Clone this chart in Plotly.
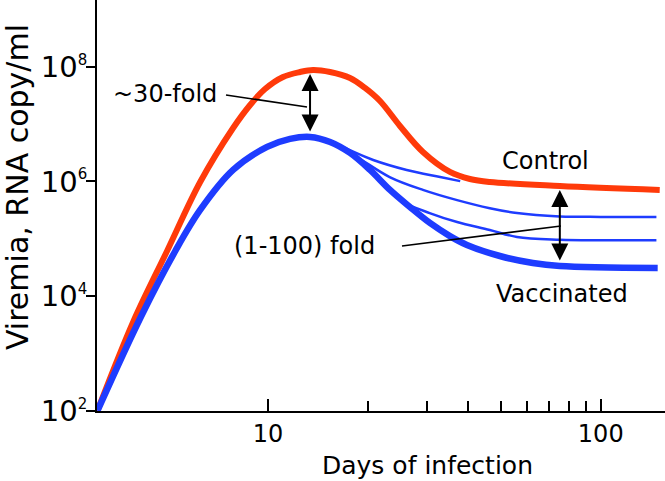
import numpy as np
import plotly.graph_objects as go

# ---------------- data ----------------
control_days = [3.07, 3.93, 4.97, 6.25, 7.85, 8.83, 9.79, 11.09, 12.48, 13.65, 15.36, 17.63, 19.56, 21.7,
                24.91, 29.21, 35.21, 40.43, 46.42, 75.33, 150.4]
control_vl = [1e2, 3.53e3, 6.1e4, 9.75e5, 8.53e6, 2.15e7, 4.08e7, 6.62e7, 8.09e7, 8.77e7, 8.09e7, 6.36e7, 4.26e7,
              2.52e7, 9.25e6, 3.25e6, 1.46e6, 1.10e6, 9.75e5, 8.3e5, 7.08e5]

vacc_days = [3.07, 4.13, 5.26, 6.25, 7.85, 9.93, 11.64, 13.37, 15.36, 17.63, 20.25, 23.25, 26.69, 30.65, 35.21,
             39.6, 49.75, 62.5, 75.33, 148.3]
vacc_vl = [1e2, 4.14e3, 6.1e4, 3.17e5, 1.58e6, 3.98e6, 5.49e6, 5.95e6, 4.86e6, 3.13e6, 1.58e6, 7.08e5, 3.57e5,
           1.88e5, 1.11e5, 7.77e4, 4.99e4, 3.77e4, 3.34e4, 3.08e4]

thin1_days = [13.37, 15.36, 20.7, 26.1, 32.9, 37.8]
thin1_vl = [5.95e6, 4.86e6, 2.36e6, 1.58e6, 1.19e6, 1.01e6]

thin2_days = [13.37, 15.36, 18.5, 23.2, 29.2, 37.0, 46.4, 56.0, 75.3, 100, 147]
thin2_vl = [5.95e6, 4.86e6, 2.66e6, 1.19e6, 7.1e5, 4.7e5, 3.4e5, 2.8e5, 2.45e5, 2.4e5, 2.4e5]

thin3_days = [20.25, 23.25, 25.4, 30.6, 37.0, 46.4, 56.0, 75.3, 100, 147]
thin3_vl = [1.58e6, 7.08e5, 4.4e5, 2.8e5, 1.95e5, 1.42e5, 1.07e5, 9.6e4, 9.4e4, 9.4e4]

x_tickvals = [10, 100]
x_ticktext = ["10", "100"]
x_minorvals = [20, 30, 40, 50, 60, 70, 80, 90]
y_tickvals = [1e2, 1e4, 1e6, 1e8]
y_exponents = ["2", "4", "6", "8"]
arrow2_day = 75.33

RED = "#ff3a0a"
BLUE = "#1e3cff"
FONT = "DejaVu Sans"

W, H = 665, 481
L, R, T, B = 97, 0, 0, 70
PW, PH = W - L - R, H - T - B


def px(x):
    return (x - L) / PW


def py(y):
    return (T + PH - y) / PH


fig = go.Figure()
for xs, ys in [(thin1_days, thin1_vl), (thin2_days, thin2_vl), (thin3_days, thin3_vl)]:
    fig.add_trace(go.Scatter(x=xs, y=ys, mode="lines", line=dict(color=BLUE, width=2.5, shape="spline", smoothing=1.0),
                             hoverinfo="skip", showlegend=False))
fig.add_trace(go.Scatter(x=control_days, y=control_vl, mode="lines", name="Control",
                         line=dict(color=RED, width=6, shape="spline", smoothing=1.0), showlegend=False))
fig.add_trace(go.Scatter(x=vacc_days, y=vacc_vl, mode="lines", name="Vaccinated",
                         line=dict(color=BLUE, width=6.5, shape="spline", smoothing=1.0), showlegend=False))

ann = []
pk_x = vacc_days[int(np.argmax(vacc_vl))]
pk_top = max(control_vl)
pk_bot = max(vacc_vl)
arrow_common = dict(xref="x", yref="y", axref="x", ayref="y", text="", showarrow=True,
                    arrowside="end+start", arrowhead=2, startarrowhead=2, arrowsize=1.7, startarrowsize=1.7,
                    arrowwidth=2, arrowcolor="black", standoff=4, startstandoff=4)
ann.append(dict(x=np.log10(pk_x), y=np.log10(pk_top), ax=np.log10(pk_x), ay=np.log10(pk_bot), **arrow_common))
i_c = control_days.index(arrow2_day)
i_v = vacc_days.index(arrow2_day)
ann.append(dict(x=np.log10(arrow2_day), y=np.log10(control_vl[i_c]), ax=np.log10(arrow2_day),
                ay=np.log10(vacc_vl[i_v]), **arrow_common))


def text(t, x, y, size=24, xanchor="center", angle=0):
    return dict(text=t, x=px(x), y=py(y), xref="paper", yref="paper", showarrow=False,
                xanchor=xanchor, yanchor="middle", textangle=angle,
                font=dict(family=FONT, size=size, color="black"))


ann.append(text("~30-fold", 219, 94, xanchor="right"))
ann.append(text("(1-100) fold", 377, 246, xanchor="right"))
ann.append(text("Control", 545, 161))
ann.append(text("Vaccinated", 562, 294))
ann.append(text("Days of infection", 427, 465, size=25))
ann.append(text("Viremia, RNA copy/ml", 17, 187, size=30, angle=-90))

shapes = [
    dict(type="line", xref="paper", yref="paper", x0=px(226), y0=py(95), x1=px(307), y1=py(107),
         line=dict(color="black", width=1.6)),
    dict(type="line", xref="paper", yref="paper", x0=px(402), y0=py(246), x1=px(561), y1=py(226),
         line=dict(color="black", width=1.6)),
]

y_ticktext = ["10<sup><span style='font-size:15px'>%s</span></sup>" % e for e in y_exponents]

fig.update_layout(
    width=W, height=H, margin=dict(l=L, r=R, t=T, b=B, autoexpand=False),
    paper_bgcolor="white", plot_bgcolor="white",
    font=dict(family=FONT, color="black"), hovermode=False,
    annotations=ann, shapes=shapes, showlegend=False,
    xaxis=dict(type="log", range=[np.log10(3.06), np.log10(156)], showgrid=False, zeroline=False,
               showline=True, linecolor="black", linewidth=2, automargin=False,
               tickmode="array", tickvals=x_tickvals, ticktext=x_ticktext,
               ticks="inside", ticklen=12, tickwidth=2, tickcolor="black",
               tickfont=dict(family=FONT, size=24, color="black"),
               minor=dict(ticks="inside", ticklen=10, tickwidth=2, tickcolor="black", tickvals=x_minorvals,
                          showgrid=False)),
    yaxis=dict(type="log", range=[1.995, 9.163], showgrid=False, zeroline=False,
               showline=True, linecolor="black", linewidth=2, automargin=False,
               tickmode="array", tickvals=y_tickvals, ticktext=y_ticktext,
               ticks="outside", ticklen=9, tickwidth=2, tickcolor="black", ticklabelstandoff=-7,
               tickfont=dict(family=FONT, size=29, color="black")),
)

fig.write_html("out.html", config={"displayModeBar": False},
               post_script="document.body.style.margin='0';document.body.style.padding='0';")
